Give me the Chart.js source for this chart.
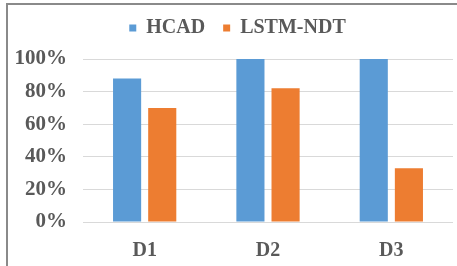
<!DOCTYPE html>
<html>
<head>
<meta charset="utf-8">
<script src="https://cdn.jsdelivr.net/npm/chart.js@4/dist/chart.umd.min.js"></script>
<style>
  html, body { margin: 0; padding: 0; background: #fff; }
  #wrap { position: relative; width: 457px; height: 266px; overflow: hidden; }
  #frame { position: absolute; left: 6px; top: 3px; width: 460px; height: 261px;
           border-left: 2px solid #8a8a8a; border-top: 2px solid #8a8a8a; border-bottom: 1px solid #d0d0d0;
           pointer-events: none; }
  canvas { position: absolute; left: 0; top: 0; }
</style>
</head>
<body>
<div id="wrap">
  <canvas id="c" width="457" height="266"></canvas>
  <div id="frame"></div>
</div>
<script>
const categories = ["D1", "D2", "D3"];
const seriesNames = ["HCAD", "LSTM-NDT"];
const hcadValues = [88, 100, 100];
const lstmValues = [70, 82, 33];
const yTicks = [0, 20, 40, 60, 80, 100];

const FAMILY = "'Liberation Serif', 'Times New Roman', serif";
Chart.defaults.font.family = FAMILY;
const textColor = "#595959";

const legendExtra = {
  id: "legendExtra",
  afterInit(chart) {
    const lg = chart.legend;
    if (lg) {
      const orig = lg.fit;
      lg.fit = function () { orig.call(this); this.height += 11; };
    }
  },
  afterLayout(chart) {
    const lg = chart.legend;
    if (lg) { lg.left += 11; lg.right += 11; }
  }
};

new Chart(document.getElementById("c"), {
  type: "bar",
  data: {
    labels: categories,
    datasets: [
      { label: seriesNames[0], data: hcadValues, backgroundColor: "#5B9BD5" },
      { label: seriesNames[1], data: lstmValues, backgroundColor: "#ED7D31" }
    ]
  },
  plugins: [legendExtra],
  options: {
    responsive: false,
    animation: false,
    devicePixelRatio: 1,
    categoryPercentage: 0.57,
    barPercentage: 0.8,
    layout: { padding: { top: 0, right: 4, bottom: 0, left: 0 } },
    plugins: {
      tooltip: { enabled: false },
      legend: {
        position: "top",
        labels: {
          color: textColor,
          font: { family: FAMILY, size: 20, weight: "bold" },
          boxWidth: 7,
          boxHeight: 7,
          padding: 18
        }
      }
    },
    scales: {
      x: {
        grid: { display: false, drawTicks: false },
        border: { display: false },
        ticks: { color: textColor, font: { family: FAMILY, size: 20, weight: "bold" }, padding: 17 },
        afterFit: s => { s.height = 44; }
      },
      y: {
        min: 0, max: 100,
        afterBuildTicks: s => { s.ticks = yTicks.map(v => ({ value: v })); },
        grid: { color: "#d9d9d9", lineWidth: 1, drawTicks: false },
        border: { display: false },
        ticks: { color: textColor, font: { family: FAMILY, size: 21, weight: "bold" }, padding: 16, callback: v => v + "%" },
        afterFit: s => { s.width = 83; }
      }
    }
  }
});
</script>
</body>
</html>
